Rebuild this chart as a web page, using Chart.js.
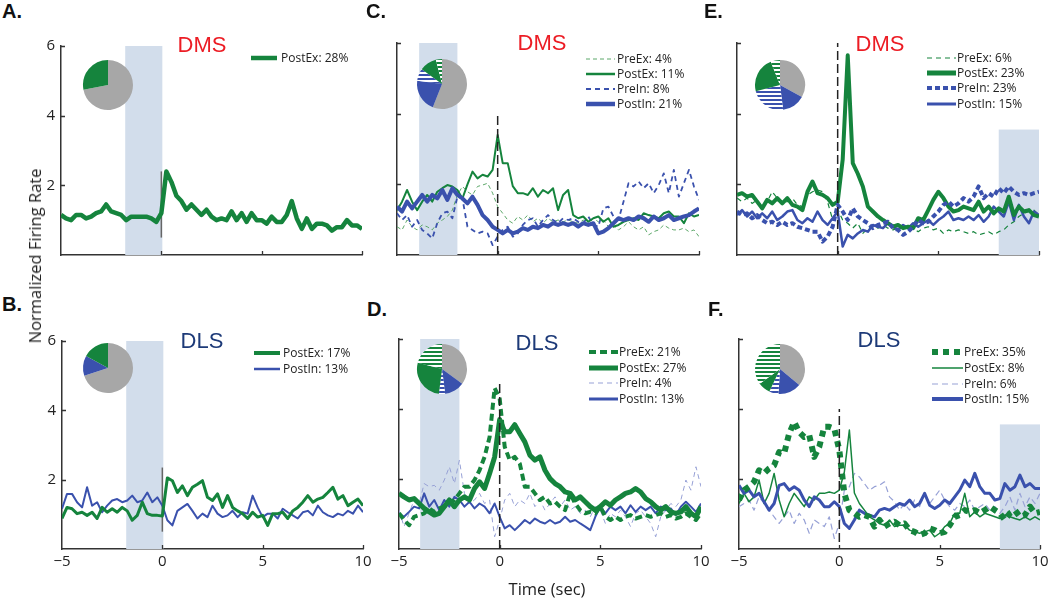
<!DOCTYPE html>
<html><head><meta charset="utf-8">
<script src="https://cdn.jsdelivr.net/npm/chart.js@4.4.1/dist/chart.umd.min.js"></script>
<style>
html,body{margin:0;padding:0;background:#fff;}
#wrap{position:relative;width:1050px;height:598px;overflow:hidden;font-family:'Open Sans',sans-serif;color:#222;}
#wrap canvas{position:absolute;}
.letter{position:absolute;font-family:'Liberation Sans',Arial,sans-serif;font-weight:bold;font-size:20px;line-height:20px;color:#111;white-space:nowrap;}
.ttl{position:absolute;font-family:'Liberation Sans',Arial,sans-serif;font-size:22px;line-height:22px;transform:translateX(-50%);white-space:nowrap;}
.leg{position:absolute;display:flex;align-items:center;height:14px;font-size:12px;line-height:14px;white-space:nowrap;color:#222;}
.axt{position:absolute;font-size:16.5px;line-height:20px;white-space:nowrap;color:#222;}
</style></head>
<body><div id="wrap"></div>
<script>
// ---------- DATA ----------
const time = [-5,-4.75,-4.5,-4.25,-4,-3.75,-3.5,-3.25,-3,-2.75,-2.5,-2.25,-2,-1.75,-1.5,-1.25,-1,-0.75,-0.5,-0.25,0,0.25,0.5,0.75,1,1.25,1.5,1.75,2,2.25,2.5,2.75,3,3.25,3.5,3.75,4,4.25,4.5,4.75,5,5.25,5.5,5.75,6,6.25,6.5,6.75,7,7.25,7.5,7.75,8,8.25,8.5,8.75,9,9.25,9.5,9.75,10];
const xTicks = [-5, 0, 5, 10];
const yTicks = [0, 2, 4, 6];

// Panel A (DMS)
const namesA = ['PostEx'];
const pctA = [28];
const A_PostEx = [1.15,1.05,1.0,1.15, 1.15,1.05,1.1,1.2, 1.25,1.45,1.25,1.2, 1.15,1.0,1.1,1.1, 1.1,1.1,1.05,0.95,
  1.2,2.4,2.1,1.7, 1.55,1.3,1.45,1.3, 1.15,1.3,1.1,1.0, 1.05,1.0,1.25,1.0, 1.2,0.95,1.2,1.0, 1.0,0.9,1.1,0.95,
  0.95,1.15,1.55,1.05, 0.75,1.05,0.75,0.9, 0.9,0.85,0.7,0.8, 0.8,1.0,0.85,0.85, 0.75];
const shadeA = [-1.8, 0.05, 0, 6];
const zeroA = [0.5, 2.4];

// Panel B (DLS)
const namesB = ['PostEx','PostIn'];
const pctB = [17, 13];
const B_PostEx = [0.88,1.2,1.16,1.02, 1.06,0.97,1.06,0.88, 1.2,1.06,1.16,1.06, 1.2,1.1,0.83,0.97, 1.35,1.02,0.97,0.97,
  0.95,2.05,1.97,1.63, 1.82,1.54,1.78,1.87, 1.97,1.49,1.4,1.59, 1.2,1.54,1.2,1.1, 1.02,0.88,1.06,0.92, 0.97,0.68,1.02,1.02,
  1.06,0.88,1.1,1.2, 1.35,1.54,1.35,1.44, 1.49,1.63,1.78,1.44, 1.54,1.25,1.35,1.44, 1.25];
const B_PostIn = [1.16,1.59,1.59,1.35, 1.2,1.78,1.25,1.35, 1.06,1.25,1.4,1.44, 1.35,1.4,1.54,1.35, 1.4,1.63,1.35,1.49,
  1.25,0.83,0.68,1.1, 1.2,1.3,1.1,0.88, 1.02,0.92,1.25,1.02, 0.92,0.97,1.1,0.92, 1.06,1.02,1.54,1.2, 0.92,1.02,1.02,0.88,
  1.16,1.06,0.97,0.88, 1.06,1.1,0.97,1.25, 1.06,0.97,0.92,1.02, 0.97,1.1,1.02,1.25, 1.06];
const shadeB = [-1.8, 0.05, 0, 6];
const zeroB = [0.5, 2.35];

// Panel C (DMS)
const namesC = ['PreEx','PostEx','PreIn','PostIn'];
const pctC = [4, 11, 8, 21];
const C_PreEx = [0.8,0.71,0.99,0.8, 0.71,0.85,0.8,0.71, 0.9,0.99,1.09,1.27, 1.7,1.94,1.79,1.7, 1.94,1.98,2.03,1.75,
  1.37,1.18,0.99,0.9, 1.09,0.99,1.13,0.94, 1.04,0.9,1.04,0.94, 0.99,0.94,0.99,0.94, 0.9,0.99,0.85,1.04, 0.94,0.99,0.8,0.85,
  0.71,0.8,0.94,0.8, 0.71,0.8,0.57,0.66, 0.71,0.85,0.76,0.71, 0.71,0.76,0.66,0.71, 0.52];
const C_PostEx = [1.27,1.51,1.84,1.51, 1.27,1.51,1.7,1.51, 1.79,1.89,1.98,1.94, 1.84,1.6,2.0,2.36, 2.17,2.27,2.22,2.41,
  3.4,2.6,2.6,1.95, 1.75,1.75,1.7,1.89, 1.65,1.84,1.75,1.89, 1.27,1.7,1.84,1.13, 1.04,1.09,0.94,1.04, 1.09,0.94,1.04,0.8,
  0.85,0.94,0.99,1.04, 0.99,1.18,1.13,1.09, 1.04,1.18,1.23,1.09, 1.09,0.9,1.18,1.09, 1.13];
const C_PreIn = [1.18,0.99,1.13,0.8, 0.99,0.71,0.61,0.47, 0.9,1.18,1.23,1.04, 1.65,1.6,0.8,0.71, 0.61,0.66,0.61,0.28,
  0.52,0.71,0.8,0.52, 0.61,0.85,0.99,1.04, 0.8,0.99,1.13,0.99, 0.9,1.04,0.99,1.04, 0.94,0.9,1.09,0.85, 0.8,1.32,1.37,1.09,
  0.99,1.51,2.03,1.94, 2.08,1.89,2.03,1.75, 1.98,2.31,1.75,2.41, 1.65,2.03,2.41,1.94, 1.56];
const C_PostIn = [1.37,1.23,1.51,1.32, 1.51,1.7,1.51,1.7, 1.6,1.84,1.56,1.89, 1.7,1.6,1.46,1.65, 1.42,1.13,0.99,0.8,
  0.71,0.61,0.71,0.61, 0.66,0.76,0.71,0.8, 0.76,0.85,0.8,0.9, 0.85,0.9,0.85,0.9, 0.8,0.9,0.85,0.9, 0.61,0.66,0.76,0.9,
  1.04,0.99,1.04,0.99, 1.09,1.04,0.94,1.09, 0.99,1.04,1.13,0.99, 1.04,1.09,1.13,1.23, 1.32];
const shadeC = [-3.9, -2.0, 0, 6];
const zeroC = [0, 4.0];

// Panel D (DLS)
const namesD = ['PreEx','PostEx','PreIn','PostIn'];
const pctD = [21, 27, 4, 13];
const D_PreEx = [1.02,0.83,0.68,0.92, 0.97,1.02,1.16,1.06, 1.16,1.21,1.3,1.4, 1.59,1.78,1.78,1.97, 2.25,2.63,3.2,4.6,
  4.3,2.92,2.54,2.63, 2.44,1.78,1.78,1.59, 1.4,1.49,1.3,1.35, 1.21,1.11,1.59,1.3, 1.11,1.02,1.06,1.02, 1.21,0.92,0.83,0.92,
  0.83,0.92,0.97,0.87, 0.92,0.97,0.92,0.97, 1.02,0.92,0.97,0.87, 0.92,1.02,0.92,0.83, 1.02];
const D_PostEx = [1.59,1.49,1.4,1.44, 1.3,1.16,1.06,0.97, 1.02,1.21,1.4,1.21, 1.4,1.49,1.4,1.73, 1.92,1.73,2.16,2.63,
  3.7,3.35,3.35,3.55, 3.3,3.06,2.68,2.54, 2.63,2.25,2.01,1.87, 1.78,1.63,1.59,1.4, 1.49,1.35,1.21,1.11, 1.21,1.35,1.25,1.4,
  1.49,1.59,1.63,1.73, 1.63,1.44,1.35,1.21, 1.11,1.21,1.06,1.02, 1.06,1.21,1.02,0.92, 1.21];
const D_PreIn = [1.11,0.64,1.02,1.4, 1.3,1.87,1.78,1.82, 1.68,1.97,2.35,1.87, 2.54,1.59,1.3,1.4, 1.59,1.3,1.4,0.35,
  0.83,1.4,1.59,1.21, 1.4,1.3,1.59,1.21, 1.4,1.11,1.3,1.49, 1.21,1.4,1.11,1.21, 1.02,1.11,0.92,1.21, 1.11,0.73,1.02,0.92,
  1.11,0.92,0.64,1.02, 1.11,0.92,0.73,0.35, 0.92,1.11,1.3,1.21, 1.4,1.97,1.68,2.35, 1.78];
const D_PostIn = [1.02,0.92,1.06,1.21, 1.16,1.59,1.21,1.4, 1.11,1.4,1.21,1.49, 1.4,1.21,1.35,1.16, 1.3,1.21,1.02,1.3,
  0.92,0.59,0.68,0.54, 0.68,0.83,0.73,0.87, 0.78,0.73,0.83,0.73, 0.78,0.92,0.78,0.83, 0.73,0.64,0.54,0.92, 1.21,1.02,1.21,1.11,
  1.21,1.02,1.25,1.06, 1.21,1.11,1.21,1.02, 1.21,1.11,1.16,0.97, 1.21,1.35,1.21,1.06, 1.3];
const shadeD = [-3.95, -2.0, 0, 6];
const zeroD = [0, 4.8];

// Panel E (DMS)
const namesE = ['PreEx','PostEx','PreIn','PostIn'];
const pctE = [6, 23, 23, 15];
const E_PreEx = [1.61,1.51,1.61,1.46, 1.56,1.37,1.51,1.79, 1.61,1.46,1.51,1.61, 1.42,1.37,1.7,1.79, 1.84,1.79,1.5,1.0,
  1.3,0.99,0.9,0.76, 0.9,0.61,0.76,0.85, 0.76,0.85,0.76,0.71, 0.76,0.8,0.71,0.76, 0.66,0.76,0.8,0.71, 0.76,0.61,0.71,0.66,
  0.71,0.66,0.61,0.66, 0.57,0.61,0.66,0.57, 0.66,0.71,0.85,0.94, 1.09,1.18,1.23,1.27, 1.13];
const E_PostEx = [1.7,1.75,1.65,1.7, 1.51,1.32,1.56,1.46, 1.61,1.46,1.61,1.42, 1.37,1.27,1.79,2.08, 1.75,1.7,1.61,1.42,
  1.5,2.7,5.65,2.6, 2.3,1.94,1.37,1.23, 1.09,0.99,0.9,0.8, 0.85,0.76,0.8,0.76, 1.04,0.99,1.27,1.56, 1.79,1.61,1.37,1.23,
  1.27,1.37,1.32,1.27, 1.51,1.23,1.37,1.18, 1.32,1.23,1.65,1.13, 1.37,1.23,1.27,1.13, 1.09];
const E_PreIn = [1.23,1.13,1.18,1.04, 1.13,0.99,0.9,0.94, 0.85,0.94,0.85,0.9, 0.8,0.76,0.71,0.66, 0.66,0.38,0.52,0.8,
  1.42,1.23,0.99,1.32, 1.09,0.99,0.9,0.76, 0.85,0.9,0.94,0.76, 0.71,0.57,0.66,0.8, 0.99,0.9,0.94,1.09, 1.23,1.42,1.51,1.37,
  1.46,1.61,1.51,1.65, 1.94,1.61,1.75,1.65, 1.89,1.75,1.94,1.79, 1.7,1.75,1.7,1.75, 1.79];
const E_PostIn = [1.13,1.27,1.09,1.23, 1.04,1.18,1.04,1.23, 0.99,1.09,1.23,1.27, 0.99,0.9,1.04,0.94, 1.23,0.99,0.85,1.04,
  1.23,0.24,0.57,0.47, 0.61,0.71,0.66,0.85, 0.8,0.76,0.9,0.8, 0.71,0.85,0.76,0.9, 0.8,0.9,0.99,0.85, 0.99,1.09,1.23,0.99,
  1.04,0.99,1.09,0.99, 1.13,0.94,1.09,1.37, 1.23,1.09,1.51,0.99, 1.42,1.09,0.9,1.23, 1.13];
const shadeE = [8.0, 10, 0, 3.55];
const zeroE = [0, 6];

// Panel F (DLS)
const namesF = ['PreEx','PostEx','PreIn','PostIn'];
const pctF = [35, 8, 6, 15];
const F_PreEx = [1.4,1.68,1.78,1.92, 2.25,2.16,2.3,2.39, 2.77,2.73,3.3,3.63, 3.34,3.2,3.25,2.63, 2.92,3.49,3.49,3.44,
  2.82,1.59,1.11,1.02, 0.92,0.97,0.92,0.64, 0.83,0.64,0.73,0.78, 0.68,0.73,0.54,0.49, 0.4,0.45,0.59,0.54, 0.45,0.49,0.68,0.92,
  0.97,1.11,1.06,1.11, 1.02,1.11,1.21,1.11, 1.02,0.83,1.02,1.11, 0.92,0.97,1.21,1.02, 1.06];
const F_PostEx = [1.3,1.59,1.35,1.49, 1.97,1.3,1.59,2.16, 1.4,0.92,1.3,1.59, 1.4,1.21,1.49,1.4, 1.59,1.59,1.63,1.59,
  1.68,2.2,3.4,1.6, 1.3,1.11,0.92,0.83, 0.73,0.68,0.83,0.64, 0.68,0.68,0.54,0.49, 0.45,0.49,0.54,0.35, 0.45,0.64,0.73,1.02,
  1.02,1.59,0.92,1.06, 0.92,1.02,0.97,0.92, 0.87,0.97,0.92,0.87, 0.83,0.92,0.83,0.92, 0.83];
const F_PreIn = [1.21,1.3,1.4,1.11, 1.49,1.3,1.11,0.92, 0.73,0.92,1.11,0.73, 1.02,0.83,0.45,0.83, 0.73,0.64,0.92,0.3,
  0.73,1.68,1.78,2.16, 2.06,1.87,1.68,1.78, 1.82,1.92,1.49,1.35, 1.11,1.3,1.11,1.4, 1.21,1.59,1.3,1.49, 1.68,1.4,1.21,1.11,
  1.3,1.21,1.4,1.11, 1.21,1.3,1.11,1.21, 1.02,1.21,1.49,1.11, 1.59,1.21,1.49,1.3, 1.59];
const F_PostIn = [1.82,1.59,1.68,1.49, 1.59,1.35,1.11,1.3, 1.82,1.87,1.68,1.78, 1.68,1.4,1.21,1.49, 1.4,1.21,1.21,1.35,
  1.21,0.73,0.59,0.83, 1.11,1.02,0.97,0.92, 1.11,1.16,1.11,1.21, 1.3,1.25,1.4,1.21, 1.3,1.59,1.25,1.16, 1.25,1.4,1.3,1.49,
  1.68,1.97,1.78,2.16, 1.78,1.59,1.59,1.4, 1.44,1.87,1.68,1.78, 2.11,1.78,1.87,1.73, 1.73];
const shadeF = [8.0, 10, 0, 3.56];
const zeroF = [0.2, 4.0];

// ---------- STYLE ----------
const GREEN = '#15843d', LGREEN = '#5da86a', BLUE = '#3a51ad', LAV = '#97a1d6', GRAY = '#a7a7a7', SHADE = '#d2ddeb';
const RED = '#ec1c24', NAVY = '#1d3a78';

const wrap = document.getElementById('wrap');

function hatch(color){
  const c = document.createElement('canvas'); c.width = 4; c.height = 4;
  const x = c.getContext('2d');
  x.fillStyle = '#fff'; x.fillRect(0,0,4,4);
  x.fillStyle = color; x.fillRect(0,0,4,2);
  return x.createPattern(c, 'repeat');
}

const shadePlugin = {
  id: 'shade',
  beforeDatasetsDraw(chart, args, opts){
    const r = opts.rect; if (!r) return;
    const xs = chart.scales.x, ys = chart.scales.y, ctx = chart.ctx;
    const x0 = xs.getPixelForValue(r[0]), x1 = xs.getPixelForValue(r[1]);
    const y0 = ys.getPixelForValue(r[2]), y1 = ys.getPixelForValue(r[3]);
    ctx.save(); ctx.fillStyle = SHADE; ctx.fillRect(x0, y1, x1 - x0, y0 - y1); ctx.restore();
  }
};
const tickPlugin = {
  id: 'inTicks',
  afterDraw(chart){
    const xs = chart.scales.x, ys = chart.scales.y, ctx = chart.ctx;
    ctx.save(); ctx.strokeStyle = '#333'; ctx.lineWidth = 1.3; ctx.beginPath();
    xs.ticks.forEach(t => { if (t.value === xs.min) return; const px = Math.round(xs.getPixelForValue(t.value)) + 0.5; ctx.moveTo(px, ys.bottom); ctx.lineTo(px, ys.bottom - 4); });
    ys.ticks.forEach(t => { if (t.value === ys.min) return; const py = Math.round(ys.getPixelForValue(t.value)) + 0.5; ctx.moveTo(xs.left, py); ctx.lineTo(xs.left + 4, py); });
    ctx.stroke(); ctx.restore();
  }
};

function fmtX(v){ return v < 0 ? '\u2212' + Math.abs(v) : String(v); }

function makePanel(p){
  const padT = 12, padR = 14, yW = 50, xH = 30;
  const cv = document.createElement('canvas');
  cv.width = p.R - p.L + yW + padR; cv.height = p.B - p.T + padT + xH;
  cv.style.left = (p.L - yW) + 'px'; cv.style.top = (p.T - padT) + 'px';
  wrap.appendChild(cv);
  const datasets = p.series.map(s => ({
    label: s.name, data: time.map((t, i) => ({x: t, y: s.data[i]})),
    borderColor: s.color, borderWidth: s.width, borderDash: s.dash, order: s.order,
    pointRadius: 0, fill: false, tension: 0, borderJoinStyle: 'round'
  }));
  datasets.push({
    label: 'event', data: [{x: 0, y: p.zero[0]}, {x: 0, y: p.zero[1]}],
    borderColor: p.zeroSolid ? '#666' : '#222', borderWidth: 1.5, borderDash: p.zeroSolid ? [] : [9, 4],
    order: p.zeroSolid ? 100 : -1, pointRadius: 0
  });
  const tickFont = {family: 'Open Sans', size: 15};
  new Chart(cv, {
    type: 'line',
    data: {datasets},
    options: {
      responsive: false, animation: false, events: [],
      layout: {padding: {top: padT, right: padR, left: 0, bottom: 0}},
      plugins: {legend: {display: false}, tooltip: {enabled: false}, shade: {rect: p.shade}},
      scales: {
        x: {
          type: 'linear', min: xTicks[0], max: xTicks[xTicks.length - 1],
          afterFit: s => { s.height = xH; },
          afterBuildTicks: s => { s.ticks = xTicks.map(v => ({value: v})); },
          grid: {display: false, drawTicks: false},
          border: {display: true, color: '#333', width: 1.5},
          ticks: {display: p.showX, padding: 4, font: tickFont, color: '#222', callback: fmtX, maxRotation: 0}
        },
        y: {
          type: 'linear', min: yTicks[0], max: yTicks[yTicks.length - 1],
          afterFit: s => { s.width = yW; },
          afterBuildTicks: s => { s.ticks = yTicks.map(v => ({value: v})); },
          grid: {display: false, drawTicks: false},
          border: {display: true, color: '#333', width: 1.5},
          ticks: {display: p.showY, padding: 6, font: tickFont, color: '#222', callback: v => v === 0 ? '' : String(v)}
        }
      }
    },
    plugins: [shadePlugin, tickPlugin]
  });

  // pie inset
  const pieOrder = ['PostIn', 'PreIn', 'PostEx', 'PreEx'];
  const pieColor = {Other: GRAY, PostIn: BLUE, PreIn: hatch(BLUE), PostEx: GREEN, PreEx: hatch(GREEN)};
  const labels = ['Other'], vals = [100 - p.pct.reduce((a, b) => a + b, 0)];
  pieOrder.forEach(n => { const i = p.names.indexOf(n); if (i >= 0) { labels.push(n); vals.push(p.pct[i]); } });
  const pc = document.createElement('canvas');
  pc.width = 52; pc.height = 52; pc.style.left = (p.pie[0] - 26) + 'px'; pc.style.top = (p.pie[1] - 26) + 'px';
  wrap.appendChild(pc);
  new Chart(pc, {
    type: 'pie',
    data: {labels, datasets: [{data: vals, backgroundColor: labels.map(l => pieColor[l]), borderWidth: 0, hoverOffset: 0}]},
    options: {responsive: false, animation: false, events: [], layout: {padding: 1},
      plugins: {legend: {display: false}, tooltip: {enabled: false}}}
  });

  // legend
  p.series.forEach((s, i) => {
    const row = document.createElement('div'); row.className = 'leg';
    row.style.left = p.leg.lx + 'px'; row.style.top = (p.leg.rows[i] - 7) + 'px';
    const lw = p.leg.lw;
    const dash = s.dash.length ? `stroke-dasharray="${s.dash.join(' ')}"` : '';
    row.innerHTML = `<svg width="${lw}" height="14" style="flex:none;display:block"><line x1="0" y1="7" x2="${lw}" y2="7" stroke="${s.color}" stroke-width="${s.lgw || s.width}" ${dash}/></svg><span style="margin-left:${p.leg.tx - p.leg.lx - lw}px">${s.name}: ${p.pct[i]}%</span>`;
    wrap.appendChild(row);
  });

  // title + letter
  const t = document.createElement('div'); t.className = 'ttl';
  t.textContent = p.title; t.style.color = p.titleColor;
  t.style.left = p.titlePos[0] + 'px'; t.style.top = (p.titlePos[1] - 3) + 'px';
  wrap.appendChild(t);
  const l = document.createElement('div'); l.className = 'letter';
  l.textContent = p.letter; l.style.left = p.letterPos[0] + 'px'; l.style.top = (p.letterPos[1] - 3) + 'px';
  wrap.appendChild(l);
}

const panels = [
  {letter: 'A.', letterPos: [2, 4], title: 'DMS', titleColor: RED, titlePos: [202, 37],
   L: 61, R: 362, T: 43, B: 255, showX: false, showY: true,
   names: namesA, pct: pctA, shade: shadeA, zero: zeroA, zeroSolid: true, pie: [108, 85],
   leg: {lx: 251, lw: 26, tx: 281, rows: [58]},
   series: [{name: 'PostEx', data: A_PostEx, color: GREEN, width: 4.5, dash: [], order: 1}]},
  {letter: 'B.', letterPos: [2, 297], title: 'DLS', titleColor: NAVY, titlePos: [202, 333],
   L: 62, R: 363, T: 338, B: 549, showX: true, showY: true,
   names: namesB, pct: pctB, shade: shadeB, zero: zeroB, zeroSolid: true, pie: [108, 368],
   leg: {lx: 254, lw: 26, tx: 283, rows: [353, 369]},
   series: [{name: 'PostEx', data: B_PostEx, color: GREEN, width: 3, lgw: 4, dash: [], order: 1},
            {name: 'PostIn', data: B_PostIn, color: BLUE, width: 2, lgw: 2.5, dash: [], order: 2}]},
  {letter: 'C.', letterPos: [366, 4], title: 'DMS', titleColor: RED, titlePos: [542, 35],
   L: 397, R: 699, T: 43, B: 255, showX: false, showY: false,
   names: namesC, pct: pctC, shade: shadeC, zero: zeroC, zeroSolid: false, pie: [442, 84],
   leg: {lx: 586, lw: 29, tx: 617, rows: [59, 73.5, 88.5, 104]},
   series: [{name: 'PreEx', data: C_PreEx, color: LGREEN, width: 1, dash: [4, 3], order: 3},
            {name: 'PostEx', data: C_PostEx, color: GREEN, width: 2, lgw: 2.5, dash: [], order: 1},
            {name: 'PreIn', data: C_PreIn, color: BLUE, width: 1.8, dash: [5, 4], order: 2},
            {name: 'PostIn', data: C_PostIn, color: BLUE, width: 4, lgw: 4.5, dash: [], order: 0}]},
  {letter: 'D.', letterPos: [367, 302], title: 'DLS', titleColor: NAVY, titlePos: [537, 335],
   L: 399, R: 701, T: 339, B: 549, showX: true, showY: false,
   names: namesD, pct: pctD, shade: shadeD, zero: zeroD, zeroSolid: false, pie: [442, 369],
   leg: {lx: 589, lw: 29, tx: 619, rows: [352, 368, 383, 399]},
   series: [{name: 'PreEx', data: D_PreEx, color: GREEN, width: 4, dash: [7, 4], order: 1},
            {name: 'PostEx', data: D_PostEx, color: GREEN, width: 5, dash: [], order: 0},
            {name: 'PreIn', data: D_PreIn, color: LAV, width: 1, dash: [5, 4], order: 3},
            {name: 'PostIn', data: D_PostIn, color: BLUE, width: 2, lgw: 3, dash: [], order: 2}]},
  {letter: 'E.', letterPos: [704, 4], title: 'DMS', titleColor: RED, titlePos: [880, 36],
   L: 737, R: 1039, T: 43, B: 255, showX: false, showY: false,
   names: namesE, pct: pctE, shade: shadeE, zero: zeroE, zeroSolid: false, pie: [780, 85],
   leg: {lx: 927, lw: 29, tx: 957, rows: [58, 73, 88, 104]},
   series: [{name: 'PreEx', data: E_PreEx, color: GREEN, width: 1.2, dash: [5, 4], order: 3},
            {name: 'PostEx', data: E_PostEx, color: GREEN, width: 4, lgw: 5, dash: [], order: 1},
            {name: 'PreIn', data: E_PreIn, color: BLUE, width: 4, dash: [5, 3], order: 0},
            {name: 'PostIn', data: E_PostIn, color: BLUE, width: 2.5, lgw: 3, dash: [], order: 2}]},
  {letter: 'F.', letterPos: [708, 302], title: 'DLS', titleColor: NAVY, titlePos: [879, 332],
   L: 739, R: 1040, T: 339, B: 549, showX: true, showY: false,
   names: namesF, pct: pctF, shade: shadeF, zero: zeroF, zeroSolid: false, pie: [780, 369],
   leg: {lx: 932, lw: 31, tx: 964, rows: [352, 368, 384, 399]},
   series: [{name: 'PreEx', data: F_PreEx, color: GREEN, width: 6, dash: [6, 5], order: 0},
            {name: 'PostEx', data: F_PostEx, color: GREEN, width: 1.5, dash: [], order: 2},
            {name: 'PreIn', data: F_PreIn, color: LAV, width: 1.2, dash: [6, 4], order: 3},
            {name: 'PostIn', data: F_PostIn, color: BLUE, width: 3, lgw: 4, dash: [], order: 1}]}
];

panels.forEach(makePanel);

// axis titles
const yt = document.createElement('div'); yt.className = 'axt';
yt.textContent = 'Normalized Firing Rate';
yt.style.left = '35px'; yt.style.top = '256px'; yt.style.transform = 'translate(-50%,-50%) rotate(-90deg)';
wrap.appendChild(yt);
const xt = document.createElement('div'); xt.className = 'axt';
xt.textContent = 'Time (sec)';
xt.style.left = '547px'; xt.style.top = '589px'; xt.style.transform = 'translate(-50%,-50%)';
wrap.appendChild(xt);
</script>
</body></html>
